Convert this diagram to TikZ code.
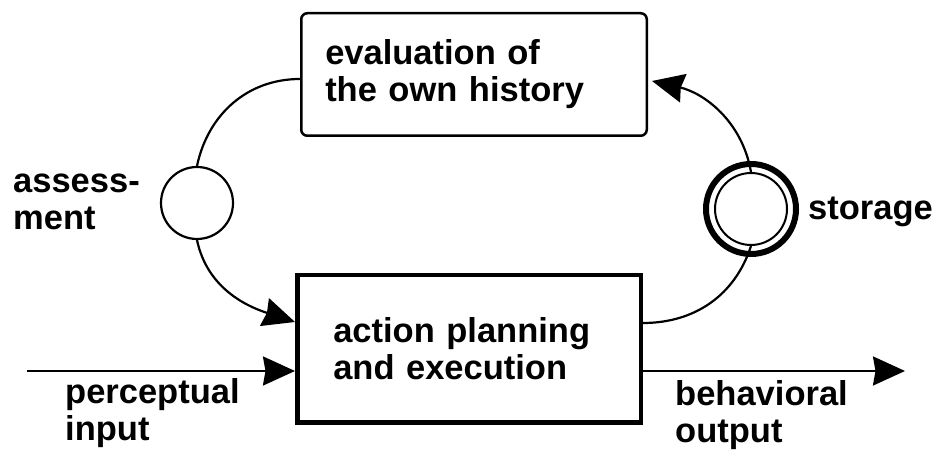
\documentclass[tikz,border=0pt]{standalone}
\usepackage{fontspec}
\setmainfont{Liberation Sans}
\usetikzlibrary{arrows.meta,calc}
\tikzset{
  txt/.style={font=\bfseries\fontsize{34.5}{37}\selectfont},
  lbl/.style={txt, align=left, inner sep=0pt, anchor=base west},
  thin/.style={line width=2.2pt},
  arr/.style={thin, -{Stealth[length=32pt,width=29pt,inset=2.5pt]}},
}
\begin{document}
\begin{tikzpicture}[x=1pt,y=1pt]
\useasboundingbox (0,0) rectangle (936,454);
% boxes
\node[draw, line width=2.5pt, rounded corners=6pt, txt, align=left,
      text width=297.5pt, inner xsep=24pt, inner ysep=0pt,
      minimum height=122.5pt] (ev) at (474,379.5)
      {evaluation of\\the own history};
\node[draw, line width=4.5pt, txt, align=left,
      text width=271.5pt, inner xsep=36pt, inner ysep=0pt,
      minimum height=147.5pt] (ap) at (469,105)
      {action planning\\and execution};
% circles
\node[draw, thin, circle, minimum size=72pt, inner sep=0pt] (as) at (197,251) {};
\node[draw, line width=6pt, circle, minimum size=90pt, inner sep=0pt] (so) at (751,245) {};
\node[draw, line width=2pt, circle, minimum size=72pt, inner sep=0pt] (si) at (751,245) {};
% labels (base anchor = baseline of the last line)
\node[lbl] (lass) at (13,224) {assess-\\ment};
\node[lbl] (lsto) at (808,234) {storage};
\node[lbl] (lper) at (65,13) {perceptual\\input};
\node[lbl] (lbeh) at (675,11) {behavioral\\output};
% coordinates
\coordinate (pin) at (27,83);
\coordinate (pout) at (905,83);
\coordinate (asin) at (0,132);
\coordinate (stout) at (0,131);
% connectors
\draw[thin] (as.north) to[out=78,in=180] ($(ev.west)+(0,-4.5)$);
\draw[arr] (as.south) to[out=-78,in=162] (asin -| ap.west);
\draw[arr] (pin) -- (pin -| ap.west);
\draw[arr] (si.north) to[out=100,in=-13] ($(ev.east)+(4,-6.5)$);
\draw[thin] (si.south) to[out=-108,in=0] (stout -| ap.east);
\draw[arr] (pout -| ap.east) -- (pout);
\end{tikzpicture}
\end{document}
